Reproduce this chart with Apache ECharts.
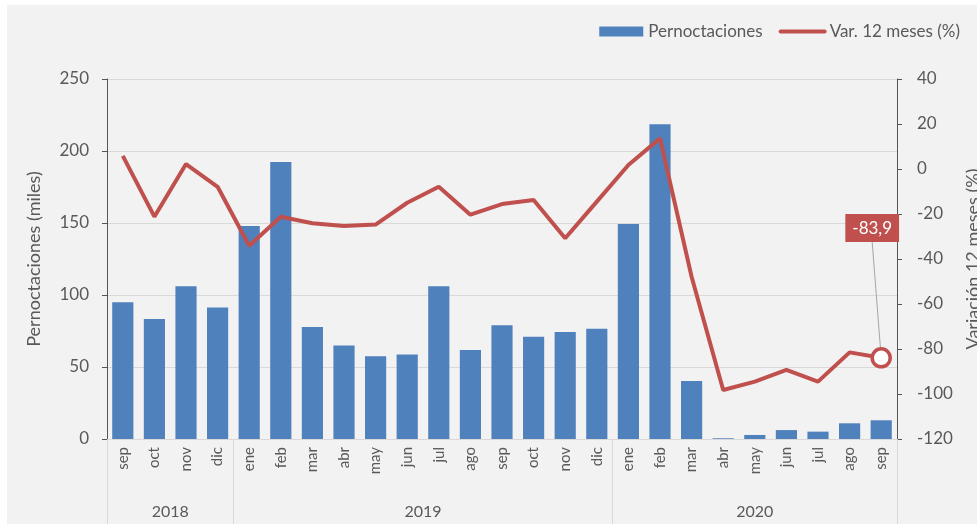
<!DOCTYPE html>
<html>
<head>
<meta charset="utf-8">
<script src="https://cdn.jsdelivr.net/npm/echarts@6/dist/echarts.min.js"></script>
<style>
    html, body { margin: 0; padding: 0; background: #fff; }
    .chart-box {
        position: absolute;
        left: 7px;
        top: 5px;
        width: 970px;
        height: 519px;
        background: #f2f2f2;
    }
</style>
</head>
<body>
<div id="chart" class="chart-box"></div>
<script>
const months = ['sep', 'oct', 'nov', 'dic',
    'ene', 'feb', 'mar', 'abr', 'may', 'jun', 'jul', 'ago', 'sep', 'oct', 'nov', 'dic',
    'ene', 'feb', 'mar', 'abr', 'may', 'jun', 'jul', 'ago', 'sep'];
const years = ['2018', '2019', '2020'];
const monthsPerYear = [4, 12, 9];
const pernoctaciones = [95, 83.3, 106, 91.4,
    148, 192.4, 77.8, 65, 57.4, 58.6, 106, 61.8, 79, 71, 74.3, 76.6,
    149.3, 218.5, 40.3, 0.5, 2.8, 6.2, 5.1, 10.9, 13];
const variacion = [5.8, -21.2, 2.2, -7.9,
    -34.1, -21.2, -24.1, -25.3, -24.7, -15, -7.9, -20.3, -15.6, -13.8, -30.8, -14.5,
    1.8, 13.6, -47.9, -98.2, -94.5, -89.3, -94.5, -81.5, -83.9];

// year separators and centres, from the group sizes
const yearEdges = [0];
const yearCentres = [];
monthsPerYear.forEach((n, i) => {
    yearCentres.push(yearEdges[i] + n / 2);
    yearEdges.push(yearEdges[i] + n);
});

const font = 'Lato, "Noto Sans", sans-serif';
const grey = '#595959';
const last = variacion.length - 1;

const chart = echarts.init(document.getElementById('chart'));
chart.setOption({
    backgroundColor: '#f2f2f2',
    textStyle: { fontFamily: font },
    legend: {
        right: 12,
        top: 13,
        itemWidth: 44,
        itemHeight: 10,
        itemGap: 16,
        textStyle: { color: grey, fontSize: 17, fontFamily: font },
        data: [
            { name: 'Pernoctaciones', icon: 'rect' },
            { name: 'Var. 12 meses (%)', itemStyle: { opacity: 0 }, lineStyle: { width: 4, cap: 'round' } }
        ]
    },
    grid: { left: 100, right: 80, top: 74, bottom: 85, outerBoundsMode: 'none' },
    xAxis: [
        {
            type: 'category',
            data: months,
            axisLine: { onZero: false, lineStyle: { color: '#d9d9d9' } },
            axisTick: { show: false },
            axisLabel: { rotate: 90, margin: 8, color: grey, fontSize: 15, fontFamily: font }
        },
        {
            type: 'value',
            min: 0,
            max: yearEdges[yearEdges.length - 1],
            position: 'bottom',
            axisLine: { show: false, onZero: false },
            splitLine: { show: false },
            axisTick: {
                show: true,
                customValues: yearEdges,
                length: 85,
                lineStyle: { color: '#d9d9d9' }
            },
            axisLabel: {
                customValues: yearCentres,
                margin: 65,
                color: grey,
                fontSize: 16,
                fontFamily: font,
                formatter: v => years[yearCentres.indexOf(v)] || ''
            }
        }
    ],
    yAxis: [
        {
            type: 'value',
            min: 0,
            max: 250,
            interval: 50,
            name: 'Pernoctaciones (miles)',
            nameLocation: 'middle',
            nameGap: 64,
            nameTextStyle: { color: grey, fontSize: 18, fontFamily: font },
            axisLabel: { margin: 18, color: grey, fontSize: 17, fontFamily: font },
            splitLine: { lineStyle: { color: '#d9d9d9' } }
        },
        {
            type: 'value',
            min: -120,
            max: 40,
            interval: 20,
            name: 'Variación 12 meses (%)',
            nameLocation: 'middle',
            nameGap: 62,
            nameTextStyle: { color: grey, fontSize: 18, fontFamily: font },
            axisLabel: { margin: 20, color: grey, fontSize: 17, fontFamily: font },
            splitLine: { show: false }
        }
    ],
    series: [
        {
            name: 'Pernoctaciones',
            type: 'bar',
            barCategoryGap: '33%',
            itemStyle: { color: '#4f81bd' },
            data: pernoctaciones
        },
        {
            name: 'Var. 12 meses (%)',
            type: 'line',
            yAxisIndex: 1,
            z: 5,
            symbol: 'circle',
            symbolSize: (v, p) => p.dataIndex === last ? 18 : 0,
            lineStyle: { color: '#c0504d', width: 4 },
            itemStyle: { color: '#fff', borderColor: '#c0504d', borderWidth: 3.5 },
            label: { show: false },
            labelLine: { show: true, lineStyle: { color: '#a6a6a6', width: 1 } },
            labelLayout: { dx: -9, dy: -100 },
            data: variacion.map((v, i) => i === last ? {
                value: v,
                label: {
                    show: true,
                    position: 'top',
                    backgroundColor: '#c0504d',
                    color: '#fff',
                    fontSize: 17,
                    fontFamily: font,
                    padding: [6, 7, 5, 7],
                    formatter: p => String(p.value).replace('.', ',')
                }
            } : v)
        }
    ]
});
</script>
</body>
</html>
